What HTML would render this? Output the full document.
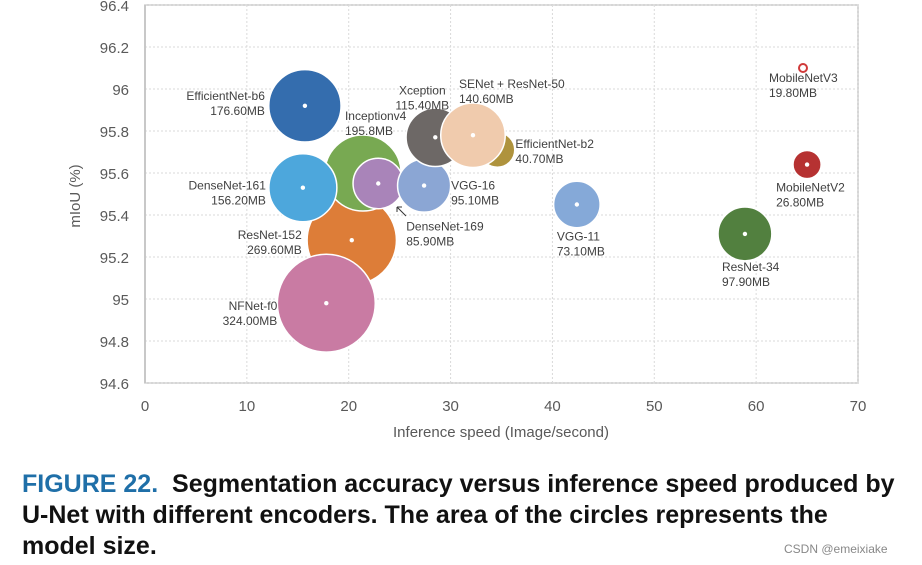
<!DOCTYPE html>
<html><head><meta charset="utf-8"><style>
body{margin:0;background:#fff;width:922px;height:565px;overflow:hidden;font-family:"Liberation Sans",sans-serif}
.cap{position:absolute;left:22px;top:469px;font-weight:bold;font-size:25px;line-height:31px;color:#111;letter-spacing:0px;white-space:nowrap}
.cap .fig{color:#1F6FA8}
.wm{position:absolute;left:784px;top:542px;font-size:12px;color:#888}
</style></head><body>
<svg id="chart" width="922" height="470" style="position:absolute;left:0;top:0" font-family="Liberation Sans, sans-serif"></svg>
<div class="cap"><span class="fig">FIGURE 22.</span>&nbsp; Segmentation accuracy versus inference speed produced by<br>U-Net with different encoders. The area of the circles represents the<br>model size.</div>
<div class="wm">CSDN @emeixiake</div>
<script>
const names=["ResNet-152","NFNet-f0","Inceptionv4","EfficientNet-b6","DenseNet-161","DenseNet-169","VGG-16","Xception","EfficientNet-b2","SENet + ResNet-50","VGG-11","ResNet-34","MobileNetV2","MobileNetV3"];
const sizeLabels=["269.60MB","324.00MB","195.8MB","176.60MB","156.20MB","85.90MB","95.10MB","115.40MB","40.70MB","140.60MB","73.10MB","97.90MB","26.80MB","19.80MB"];
const sizes=[269.6,324.0,195.8,176.6,156.2,85.9,95.1,115.4,40.7,140.6,73.1,97.9,26.8,19.8];
const speeds=[20.3,17.8,21.4,15.7,15.5,22.9,27.4,28.5,34.6,32.2,42.4,58.9,65.0,64.6];
const mious=[95.28,94.98,95.60,95.92,95.53,95.55,95.54,95.77,95.71,95.78,95.45,95.31,95.64,96.10];
const colors=["#DD7D38","#C97BA3","#78A952","#346DAE","#4DA7DC","#A984B9","#8BA6D4","#6D6866","#AF933D","#F0CBAD","#85A9D8","#52803F","#B63232","#D03A3A"];
const xTicks=[0,10,20,30,40,50,60,70];
const yTicks=[94.6,94.8,95,95.2,95.4,95.6,95.8,96,96.2,96.4];
const labelPos=[["end",-50,-1],["end",-49,7],["start",-18,-53],["end",-40,-6],["end",-37,2],["start",28,47],["start",27,4],["middle",-13,-43],["start",18,-2],["start",-14,-47],["start",-20,36],["start",-23,37],["start",-31,27],["start",-34,14]];
const L=145,R=858,T=5,B=383;
const xs=v=>L+(v-0)/(70-0)*(R-L);
const ys=v=>B-(v-94.6)/(96.4-94.6)*(B-T);
const rs=s=>2.72*Math.sqrt(s);
const NS="http://www.w3.org/2000/svg";
const svg=document.getElementById('chart');
function mk(t,a,p){const e=document.createElementNS(NS,t);for(const k in a)e.setAttribute(k,a[k]);(p||svg).appendChild(e);return e;}
const plot=mk('rect',{x:L,y:T,width:R-L,height:B-T,fill:'none',stroke:'#C8C8C8','stroke-width':1.5});


xTicks.forEach(v=>{const g=mk('line',{x1:xs(v),x2:xs(v),y1:T,y2:B,stroke:'#DADADA','stroke-dasharray':'2,2'});


const t=mk('text',{x:xs(v),y:B+28,'text-anchor':'middle','font-size':15,fill:'#595959'});t.textContent=v;

});
yTicks.forEach(v=>{const g=mk('line',{x1:L,x2:R,y1:ys(v),y2:ys(v),stroke:'#DADADA','stroke-dasharray':'2,2'});


const t=mk('text',{x:129,y:ys(v)+6,'text-anchor':'end','font-size':15,fill:'#595959'});t.textContent=v;

});
mk('line',{x1:L,x2:L,y1:T,y2:B,stroke:'#BFBFBF','stroke-width':1.5});
const xt=mk('text',{x:501,y:437,'text-anchor':'middle','font-size':15,fill:'#595959'});xt.textContent='Inference speed (Image/second)';


const yt=mk('text',{x:0,y:0,'text-anchor':'middle','font-size':15,fill:'#595959',transform:'translate(80,196) rotate(-90)'});yt.textContent='mIoU (%)';


names.forEach((n,i)=>{
 const cx=xs(speeds[i]),cy=ys(mious[i]);
 const last=i===names.length-1;
 const r=last?4:rs(sizes[i]);
 const c=mk('circle',{cx,cy,r,fill:last?'#fff':colors[i],stroke:last?colors[i]:'#fff','stroke-width':last?2:1.5});
 
 
 if(!last){const d=mk('circle',{cx,cy,r:2.2,fill:'#fff'});
 
 }
});
names.forEach((n,i)=>{
 const cx=xs(speeds[i]),cy=ys(mious[i]);const p=labelPos[i];
 const t=mk('text',{x:cx+p[1],y:cy+p[2],'text-anchor':p[0],'font-size':12,fill:'#404040'});
 
 
 const a=mk('tspan',{x:cx+p[1],dy:0},t);a.textContent=n;
 const b=mk('tspan',{x:cx+p[1],dy:15},t);b.textContent=sizeLabels[i];
});
const ar=mk('path',{d:'M406 216 L397 207 M397 207 L397 212 M397 207 L402 207',stroke:'#333','stroke-width':1,fill:'none'});


</script>
</body></html>
